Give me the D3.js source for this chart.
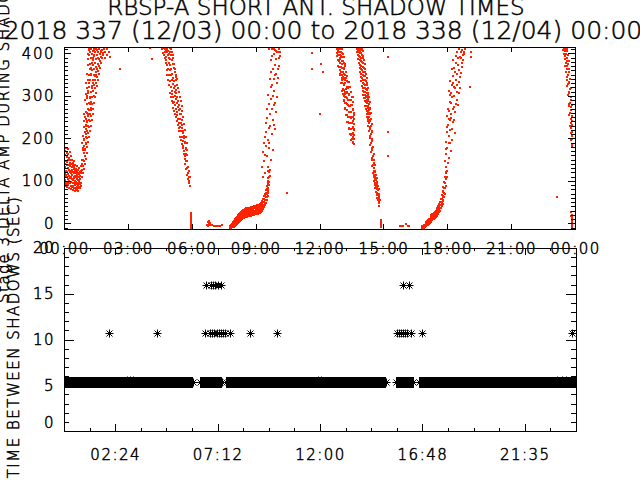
<!DOCTYPE html>
<html>
<head>
<meta charset="utf-8">
<script src="https://cdn.jsdelivr.net/npm/d3@7"></script>
<style>
body { margin: 0; background: #fff; }
text { font-family: "DejaVu Sans", sans-serif; font-weight: 200; fill: #000; stroke: #000; stroke-width: 0.5px; }
</style>
</head>
<body>
<svg id="chart" width="640" height="480"></svg>
<script>
// tick labels
const topTickHours = [0, 3, 6, 9, 12, 15, 18, 21, 24];
const topTickLabels = ['00:00', '03:00', '06:00', '09:00', '12:00', '15:00', '18:00', '21:00', '00:00'];
const ampTicks = [0, 100, 200, 300, 400];
const bottomTickHours = [2.4, 7.2, 12, 16.8, 21.6];
const bottomTickLabels = ['02:24', '07:12', '12:00', '16:48', '21:35'];
const gapTicks = [0, 5, 10, 15, 20];

// delta amp during shadow: sparse parts as [hour, value], dense parts as [hour, [values at that hour]]
const ampMorningCluster = [[0.01,128],[0.01,96],[0.02,152],[0.03,112],[0.03,170],[0.04,88],[0.05,140],[0.05,118],[0.06,102],[0.07,160],[0.07,132],[0.08,92],[0.09,146],[0.09,178],[0.10,114],[0.11,124],[0.11,98],[0.12,156],[0.13,136],[0.13,86],[0.14,108],[0.15,166],[0.15,144],[0.16,120],[0.17,94],[0.17,174],[0.18,130],[0.19,104],[0.19,150],[0.20,116],[0.21,162],[0.21,90],[0.22,138],[0.23,126],[0.23,100],[0.24,154],[0.25,112],[0.25,84],[0.26,142],[0.27,168],[0.27,120],[0.28,96],[0.29,134],[0.29,106],[0.30,148],[0.31,88],[0.31,124],[0.32,158],[0.33,110],[0.33,140],[0.34,80],[0.35,118],[0.35,98],[0.36,132],[0.37,150],[0.37,104],[0.38,86],[0.39,126],[0.39,114],[0.40,142],[0.41,94],[0.41,78],[0.42,120],[0.43,136],[0.43,102],[0.44,88],[0.45,128],[0.45,110],[0.46,146],[0.47,82],[0.47,96],[0.48,118],[0.49,132],[0.49,106],[0.50,90],[0.51,124],[0.51,76],[0.52,112],[0.53,100],[0.53,138],[0.54,84],[0.55,118],[0.55,94],[0.56,108],[0.57,128],[0.57,78],[0.58,98],[0.59,114],[0.59,86],[0.60,104],[0.61,122],[0.61,92],[0.62,80],[0.63,110],[0.63,134],[0.64,96],[0.65,84],[0.65,118],[0.66,102],[0.67,90],[0.67,126],[0.68,76],[0.69,108],[0.69,96],[0.70,116],[0.71,86],[0.71,130],[0.72,100],[0.73,92],[0.73,112],[0.74,82],[0.75,104],[0.75,120],[0.76,94]];
const ampMorningRise = [[0.78,88],[0.77,104],[0.79,118],[0.82,95],[0.81,122],[0.83,148],[0.82,134],[0.86,108],[0.85,140],[0.87,172],[0.86,190],[0.84,125],[0.90,118],[0.89,150],[0.91,176],[0.90,205],[0.92,226],[0.88,135],[0.94,128],[0.93,165],[0.95,198],[0.94,240],[0.96,258],[0.92,182],[0.95,146],[0.98,140],[0.97,172],[0.99,214],[0.98,250],[1.00,290],[0.96,196],[0.99,158],[1.01,232],[1.02,152],[1.01,190],[1.03,228],[1.02,262],[1.04,305],[1.03,330],[1.00,174],[1.05,246],[1.04,210],[1.06,166],[1.05,204],[1.07,238],[1.06,280],[1.08,318],[1.07,352],[1.04,186],[1.09,260],[1.08,300],[1.05,222],[1.10,180],[1.09,216],[1.11,256],[1.10,294],[1.12,338],[1.11,372],[1.13,398],[1.08,240],[1.12,312],[1.09,200],[1.14,192],[1.13,228],[1.15,270],[1.14,306],[1.16,350],[1.15,386],[1.17,408],[1.12,252],[1.16,330],[1.13,212],[1.18,204],[1.17,244],[1.19,282],[1.18,320],[1.20,362],[1.19,396],[1.16,266],[1.21,338],[1.17,226],[1.19,410],[1.22,218],[1.21,258],[1.23,298],[1.22,336],[1.24,374],[1.23,404],[1.20,280],[1.25,352],[1.21,240],[1.26,230],[1.25,272],[1.27,310],[1.26,348],[1.28,388],[1.27,410],[1.24,294],[1.29,366],[1.25,252],[1.30,244],[1.29,286],[1.31,324],[1.30,360],[1.32,398],[1.28,308],[1.33,378],[1.29,266],[1.34,258],[1.33,298],[1.35,338],[1.34,372],[1.36,406],[1.32,318],[1.37,390],[1.33,280],[1.38,270],[1.37,312],[1.39,350],[1.38,384],[1.40,410],[1.36,330],[1.41,396],[1.42,284],[1.41,326],[1.43,362],[1.42,394],[1.44,346],[1.40,408],[1.43,300],[1.46,296],[1.45,338],[1.47,376],[1.46,402],[1.48,356],[1.44,318],[1.50,306],[1.49,350],[1.51,386],[1.50,410],[1.52,368],[1.48,330],[1.55,322],[1.54,362],[1.56,396],[1.53,344],[1.57,408],[1.60,336],[1.59,374],[1.61,404],[1.58,358],[1.62,390],[1.65,352],[1.64,386],[1.66,410],[1.63,370],[1.70,366],[1.69,398],[1.71,382],[1.72,406],[1.75,378],[1.74,402],[1.76,392],[1.80,390],[1.79,408],[1.81,396],[1.85,400],[1.86,410],[1.92,402],[1.91,388],[2.00,396],[2.01,410],[2.10,404],[2.18,392]];
const ampEarlyFall = [[4.62,410],[4.65,400],[4.68,412],[4.70,396],[4.74,388],[4.73,404],[4.75,410],[4.78,376],[4.77,392],[4.79,408],[4.82,360],[4.81,384],[4.83,402],[4.80,412],[4.86,350],[4.85,372],[4.87,396],[4.84,410],[4.90,338],[4.89,362],[4.91,388],[4.88,406],[4.94,326],[4.93,350],[4.95,376],[4.92,398],[4.96,412],[4.98,306],[4.97,334],[4.99,360],[4.96,386],[5.00,404],[5.02,296],[5.01,320],[5.03,348],[5.00,372],[5.04,396],[5.02,410],[5.06,288],[5.05,312],[5.07,336],[5.04,362],[5.08,384],[5.06,402],[5.10,282],[5.09,304],[5.11,328],[5.08,352],[5.12,374],[5.10,396],[5.14,272],[5.13,296],[5.15,318],[5.12,342],[5.16,366],[5.14,388],[5.18,264],[5.17,286],[5.19,310],[5.16,334],[5.20,356],[5.18,374],[5.22,256],[5.21,278],[5.23,300],[5.20,322],[5.24,344],[5.22,362],[5.26,250],[5.25,270],[5.27,292],[5.24,314],[5.28,336],[5.26,350],[5.30,240],[5.29,262],[5.31,284],[5.28,306],[5.32,326],[5.30,340],[5.34,232],[5.33,254],[5.35,274],[5.32,296],[5.36,318],[5.38,224],[5.37,246],[5.39,266],[5.36,288],[5.40,308],[5.42,216],[5.41,236],[5.43,258],[5.40,278],[5.44,298],[5.46,204],[5.45,226],[5.47,246],[5.44,268],[5.48,288],[5.50,196],[5.49,216],[5.51,236],[5.48,256],[5.52,276],[5.54,186],[5.53,204],[5.55,224],[5.52,244],[5.56,264],[5.58,176],[5.57,194],[5.59,212],[5.56,232],[5.60,250],[5.62,164],[5.61,182],[5.63,200],[5.60,218],[5.64,234],[5.66,152],[5.65,170],[5.67,188],[5.64,206],[5.68,220],[5.70,140],[5.69,158],[5.71,174],[5.68,192],[5.72,204],[5.74,128],[5.73,146],[5.75,162],[5.72,178],[5.76,188],[5.78,114],[5.77,130],[5.79,146],[5.76,160],[5.80,172],[5.82,104],[5.81,118],[5.83,132],[5.80,146],[5.86,94],[5.85,108],[5.87,122],[5.90,88],[5.89,100],[5.91,110],[5.95,25],[5.96,21],[5.95,17],[5.96,13],[5.95,9],[5.96,5],[5.97,1],[5.96,-3],[5.97,-7],[5.96,-11]];
const ampEarlyLow = [[6.72,-4],[6.76,2],[6.80,5],[6.84,0],[6.88,-3],[6.95,-5],[7.05,-6],[7.15,-6],[7.25,-6],[7.35,-6],[7.42,-5],[6.78,-6],[6.82,-2]];
const ampEarlyCurve = [[7.80,[-10,-6]],[7.84,[-11,-7,-3]],[7.88,[-9,-5,-1]],[7.92,[-8,-3,2]],[7.96,[-6,-1,4]],[8.00,[-9,-5,0,6]],[8.04,[-7,-3,3,9]],[8.08,[-5,-1,5,12]],[8.12,[-2,2,8,15]],[8.16,[0,4,10,15,19]],[8.20,[2,6,12,17,21]],[8.24,[4,9,14,19,23]],[8.28,[6,11,16,21,25]],[8.32,[8,13,18,22,27]],[8.36,[10,14,19,24,29]],[8.40,[12,16,21,26,31]],[8.44,[13,17,22,27,32]],[8.48,[14,18,23,28,33]],[8.52,[15,19,24,29,34]],[8.56,[16,20,25,30,35]],[8.60,[16,20,25,31,36]],[8.64,[17,21,26,31,36]],[8.68,[17,21,26,32,37]],[8.72,[18,22,27,32,37]],[8.76,[18,22,27,33,38]],[8.80,[19,23,28,33,38]],[8.84,[19,23,28,34,39]],[8.88,[20,24,29,34,39]],[8.92,[20,24,29,35,40]],[8.96,[21,25,30,35,40]],[9.00,[21,25,30,36,41]],[9.04,[22,26,31,36,41]],[9.08,[22,26,31,37,42]],[9.12,[23,27,32,38,43]],[9.16,[24,28,33,39,44]],[9.20,[25,29,34,40,45]],[9.24,[26,30,36,42,47]],[9.28,[28,32,38,44,50]],[9.32,[30,35,41,47,53]],[9.36,[33,38,44,50,57]],[9.40,[38,44,51,58,64]],[9.44,[42,48,56,64,70]],[9.48,[47,54,62,72,78]],[9.52,[54,62,70,80,88]],[9.56,[64,72,80,92,100]],[9.60,[76,84,94,106]],[9.64,[90,98,108,120]],[9.68,[112,126]]];
const ampEarlyScatter = [[9.32,132],[9.36,168],[9.40,146],[9.42,204],[9.45,118],[9.47,182],[9.50,236],[9.52,158],[9.55,270],[9.57,196],[9.58,132],[9.60,302],[9.62,224],[9.64,176],[9.66,340],[9.68,258],[9.70,150],[9.71,384],[9.73,292],[9.75,210],[9.76,410],[9.78,326],[9.80,244],[9.81,172],[9.83,364],[9.85,278],[9.87,398],[9.88,312],[9.90,222],[9.92,350],[9.94,406],[9.96,262],[9.98,386],[10.00,330],[10.02,296],[10.05,402],[10.08,370],[10.12,410],[10.16,394],[10.47,71],[9.34,110],[9.38,190],[9.44,160],[9.49,214],[9.53,248],[9.56,122],[9.61,188],[9.65,280],[9.69,230],[9.72,320],[9.74,356],[9.77,270],[9.79,394],[9.82,300],[9.84,232],[9.86,340],[9.89,372],[9.91,408],[9.93,284],[9.97,352],[9.99,404],[10.03,364],[10.06,342],[10.10,390],[9.63,410],[9.84,410],[10.14,404]];
const ampLateFallA = [[12.80,[410,401]],[12.83,[393,409]],[12.86,[384,405,412]],[12.89,[371,395,407]],[12.92,[368,381,403,411]],[12.95,[352,377,388,409]],[12.98,[349,361,386,395,412]],[13.01,[331,357,368,394,404]],[13.04,[329,341,366,383,401]],[13.07,[311,338,349,375,392,410]],[13.10,[305,317,344,356,381,398]],[13.13,[289,314,327,352,365,391]],[13.16,[287,299,325,339,362,377]],[13.19,[271,298,309,336,348,374]],[13.22,[270,283,304,329,343,369]],[13.25,[255,282,296,315,341,355]],[13.28,[254,267,294,309,335,347]],[13.31,[239,266,281,306,321,346]],[13.34,[238,251,279,291,319,333]],[13.37,[224,250,263,290,305,332]],[13.40,[222,236,262,277,302,321]],[13.43,[210,235,249,276,291,320]],[13.46,[208,221,248,263,290,309]],[13.49,[197,222,235,262,279,308]],[13.52,[198,211,237,251,278,297]],[13.55,[190,213,225,250,267,296]],[13.58,[192,203,227,241,268,285]],[13.61,[187,207,219,245,259]],[13.64,[198,221,234,254]]];
const ampLateFallB = [[13.76,[404,411]],[13.79,[396,408]],[13.82,[386,402,412]],[13.85,[377,394,409]],[13.88,[366,385,401,411]],[13.91,[357,373,392,406]],[13.94,[345,364,383,400,412]],[13.97,[334,352,371,390,407]],[14.00,[324,341,360,380,397,410]],[14.03,[311,330,349,368,388,405]],[14.06,[302,318,338,357,376,394]],[14.09,[295,309,327,346,366,385]],[14.12,[287,303,318,336,356,374]],[14.15,[276,294,310,326,346,362]],[14.18,[269,285,300,317,335,352]],[14.21,[258,277,291,307,325,341]],[14.24,[250,264,282,297,314,330]],[14.27,[240,256,271,287,303,318]],[14.30,[229,246,262,276,292,306]],[14.33,[216,235,251,267,281,296]],[14.36,[200,222,240,256,270,285]],[14.39,[184,206,226,243,259,272]],[14.42,[168,190,211,230,246,260]],[14.45,[150,172,194,215,233]],[14.48,[134,154,176,198,218]],[14.51,[118,138,158,180]],[14.54,[108,124,142,162]],[14.57,[99,114,130,148]],[14.60,[90,104,120,136]],[14.63,[82,96,110,124]],[14.66,[74,88,101,114]],[14.69,[66,80,93,106]],[14.72,[60,72,85,97]],[14.75,[54,66,78,88]],[14.78,[48,60,70,80]],[14.81,[40,52,64]],[14.84,[56]],[14.87,[8,-1]],[14.88,[3,-5]],[14.89,[6,-9]]];
const ampLateLow = [[15.78,-6],[15.82,-6],[15.92,-6],[16.05,-2],[16.16,-7],[16.20,-7]];
const ampLateCurve = [[16.82,[-10,-7]],[16.86,[-9,-6]],[16.90,[-10,-5]],[16.94,[-8,-4]],[16.98,[-7,-2]],[17.02,[-6,-1,3]],[17.06,[-4,1,5]],[17.10,[-3,2,7]],[17.14,[-1,4,9]],[17.18,[1,6,11]],[17.22,[3,8,13]],[17.26,[5,10,15,19]],[17.30,[7,12,17,21]],[17.34,[9,14,19,23]],[17.38,[11,16,21,25]],[17.42,[13,18,23,27]],[17.46,[15,20,26,30]],[17.50,[17,22,28,33]],[17.54,[20,25,31,37]],[17.58,[23,29,35,41]],[17.62,[26,33,40,46]],[17.66,[30,37,44,51]],[17.70,[35,42,50,58]],[17.74,[40,48,57,66]],[17.78,[46,55,65,75]],[17.82,[53,63,74,86]],[17.86,[61,72,84,97]],[17.90,[70,82,96,110]],[17.93,[88,104,120]]];
const ampLateScatter = [[17.92,118],[17.96,132],[18.01,108],[17.90,146],[17.94,162],[17.99,178],[18.06,154],[18.12,188],[18.18,170],[18.24,196],[17.93,192],[17.97,214],[18.03,232],[18.09,206],[18.15,244],[18.21,222],[18.28,238],[18.35,212],[17.99,252],[18.05,268],[18.11,286],[18.17,258],[18.23,296],[18.30,274],[18.37,262],[18.44,290],[18.51,278],[18.06,312],[18.12,334],[18.19,306],[18.26,346],[18.33,320],[18.40,338],[18.47,310],[18.54,332],[18.61,318],[18.22,362],[18.29,384],[18.36,356],[18.43,394],[18.50,372],[18.57,360],[18.64,388],[18.71,368],[18.76,396],[18.48,404],[18.56,410],[18.63,402],[18.70,408],[18.79,404],[18.84,410],[18.00,124],[18.03,142],[17.95,174],[18.08,190],[18.14,220],[18.19,248],[18.25,270],[18.32,300],[18.38,318],[18.45,352],[18.52,390],[18.58,344],[18.67,378],[18.09,264],[18.16,282],[18.27,330],[18.34,366],[18.41,280],[18.53,306],[18.60,392],[17.98,226],[18.07,246],[18.13,302],[18.20,326],[18.31,242],[18.39,376],[18.46,326],[18.66,354],[18.73,384],[18.81,398],[19.07,321],[19.10,392],[19.10,404]];
const ampNightFall = [[23.44,[408]],[23.48,[398,410]],[23.52,[386,405]],[23.55,[371,394,410]],[23.58,[357,376,399]],[23.61,[338,364,383,405]],[23.64,[323,344,370,390,410]],[23.67,[301,327,348,375,395]],[23.70,[275,306,329,357,381]],[23.73,[254,280,310,333,363]],[23.76,[229,259,284,316,339]],[23.79,[213,236,266,290,319]],[23.82,[197,224,246,274,297]],[23.85,[187,205,232,253,279]],[23.88,[181,199,215,241]],[23.83,[26,18]],[23.85,[12,4]],[23.86,[20,-3]],[23.88,[8,-10]],[23.87,[-6,14]]];
const ampStray = [[2.63,362],[4.05,413],[4.13,386],[11.65,400],[11.65,363],[12.02,257],[12.07,375],[12.17,356],[15.22,391],[15.22,215],[15.22,158],[23.16,62]];

// time between shadows (sec)
const gapRunStart = [0, 6.39, 7.61, 15.55, 16.63];
const gapRunEnd = [6.06, 7.42, 15.1, 16.38, 24];
const gapRunLow = 5.15;
const gapRunHigh = 5.5;
const gapRunValue = 5.33;
const gapRaisedHours = [2.96, 3.1, 3.22, 11.9, 12.05, 23.1, 23.35, 23.55];
const gapRaisedValue = 5.6;
const gapDoubleHours = [2.11, 4.37, 6.6, 6.85, 6.95, 7.05, 7.15, 7.25, 7.35, 7.45, 7.55, 7.8, 8.74, 9.99, 15.6, 15.7, 15.8, 15.9, 16.0, 16.1, 16.25, 16.8, 23.81];
const gapDoubleValue = 10.67;
const gapTripleHours = [6.65, 6.9, 7.0, 7.1, 7.2, 7.35, 15.9, 16.18];
const gapTripleValue = 16;

const svg = d3.select('#chart');
const red = '#ff2200';
const tickFont = 15;

const x1 = d3.scaleLinear().domain([0, 24]).range([64, 575]);
const y1 = d3.scaleLinear().domain([-13.4, 414.8]).range([229, 47]);
const x2 = d3.scaleLinear().domain([0, 24]).range([64, 576]);
const y2 = d3.scaleLinear().domain([0, 20]).range([431, 248]);

const defs = svg.append('defs');
defs.append('clipPath').attr('id', 'clip1').append('rect')
	.attr('x', 64).attr('y', 47).attr('width', 511).attr('height', 182);
defs.append('clipPath').attr('id', 'clip2').append('rect')
	.attr('x', 64).attr('y', 248).attr('width', 512).attr('height', 183);

// titles
svg.append('text').attr('x', 316).attr('y', 15).attr('text-anchor', 'middle')
	.style('font-size', '23px').text('RBSP-A SHORT ANT. SHADOW TIMES');
svg.append('text').attr('x', 323).attr('y', 39).attr('text-anchor', 'middle')
	.style('font-size', '25px').text('2018 337 (12/03) 00:00 to 2018 338 (12/04) 00:00');

svg.append('text').attr('transform', 'translate(9,138) rotate(-90)').attr('text-anchor', 'middle')
	.style('font-size', '15px').style('letter-spacing', '1.5px').text('Stage 3 DELTA AMP DURING SHADOW');
svg.append('text').attr('transform', 'translate(19,337) rotate(-90)').attr('text-anchor', 'middle')
	.style('font-size', '15px').style('letter-spacing', '1.5px').text('TIME BETWEEN SHADOWS (SEC)');

// top panel dots
const spread = (segment) => segment.flatMap(([h, vs]) => vs.map((v) => [h, v]));
const ampPoints = [].concat(ampMorningCluster, ampMorningRise, ampEarlyFall, ampEarlyLow, spread(ampEarlyCurve),
	ampEarlyScatter, spread(ampLateFallA), spread(ampLateFallB), ampLateLow, spread(ampLateCurve),
	ampLateScatter, spread(ampNightFall), ampStray);

svg.append('g').attr('clip-path', 'url(#clip1)')
	.selectAll('rect')
	.data(ampPoints)
	.enter()
	.append('rect')
	.attr('x', (d) => Math.round(x1(d[0])) - 1)
	.attr('y', (d) => Math.round(y1(d[1])) - 1)
	.attr('width', 2)
	.attr('height', 2)
	.attr('fill', red);

// bottom panel
const starPath = 'M-4,0H4M0,-4V4M-3,-3L3,3M-3,3L3,-3';
const runs = gapRunStart.map((s, i) => ({ start: s, end: gapRunEnd[i] }));
const stars = [];
runs.forEach((r) => {
	stars.push([r.start, gapRunValue]);
	stars.push([r.end, gapRunValue]);
});
gapRaisedHours.forEach((h) => stars.push([h, gapRaisedValue]));
gapDoubleHours.forEach((h) => stars.push([h, gapDoubleValue]));
gapTripleHours.forEach((h) => stars.push([h, gapTripleValue]));

const g2 = svg.append('g').attr('clip-path', 'url(#clip2)');
g2.selectAll('rect')
	.data(runs)
	.enter()
	.append('rect')
	.attr('x', (d) => Math.round(x2(d.start)))
	.attr('y', Math.round(y2(gapRunHigh)) - 4)
	.attr('width', (d) => Math.round(x2(d.end) - x2(d.start)))
	.attr('height', Math.round(y2(gapRunLow) - y2(gapRunHigh)) + 8)
	.attr('fill', '#000');
g2.selectAll('path')
	.data(stars)
	.enter()
	.append('path')
	.attr('transform', (d) => 'translate(' + (Math.round(x2(d[0])) + 0.5) + ',' + (Math.round(y2(d[1])) + 0.5) + ')')
	.attr('d', starPath)
	.attr('stroke', '#000')
	.attr('fill', 'none');

// axes
const styleAxis = (g) => {
	g.select('.domain').remove();
	g.selectAll('line').attr('stroke', '#000').attr('shape-rendering', 'crispEdges');
	g.attr('font-size', tickFont).attr('font-family', '"DejaVu Sans", sans-serif');
	g.selectAll('text').style('letter-spacing', '1.5px').attr('fill', '#000');
};

const ampMinor = d3.range(-10, 411, 10).filter((v) => v % 100 !== 0);
const gapMinor = d3.range(1, 20).filter((v) => v % 5 !== 0);
const hourMinor = d3.range(1.2, 24, 1.2).filter((h, i) => (i + 1) % 4 !== 2);

// top panel
svg.append('g').attr('transform', 'translate(0,229)')
	.call(d3.axisBottom(x1).tickValues(topTickHours).tickFormat((d, i) => topTickLabels[i]).tickSize(-5).tickSizeOuter(0).tickPadding(14))
	.call(styleAxis);
svg.append('g').attr('transform', 'translate(0,47)')
	.call(d3.axisTop(x1).tickValues(topTickHours).tickFormat('').tickSize(-5).tickSizeOuter(0))
	.call(styleAxis);
svg.append('g').attr('transform', 'translate(64,0)')
	.call(d3.axisLeft(y1).tickValues(ampTicks).tickSize(-7).tickSizeOuter(0).tickPadding(9))
	.call(styleAxis);
svg.append('g').attr('transform', 'translate(64,0)')
	.call(d3.axisLeft(y1).tickValues(ampMinor).tickFormat('').tickSize(-4).tickSizeOuter(0))
	.call(styleAxis);
svg.append('g').attr('transform', 'translate(575,0)')
	.call(d3.axisRight(y1).tickValues(ampTicks).tickFormat('').tickSize(-7).tickSizeOuter(0))
	.call(styleAxis);
svg.append('g').attr('transform', 'translate(575,0)')
	.call(d3.axisRight(y1).tickValues(ampMinor).tickFormat('').tickSize(-4).tickSizeOuter(0))
	.call(styleAxis);

// bottom panel
svg.append('g').attr('transform', 'translate(0,431)')
	.call(d3.axisBottom(x2).tickValues(bottomTickHours).tickFormat((d, i) => bottomTickLabels[i]).tickSize(-7).tickSizeOuter(0).tickPadding(18))
	.call(styleAxis);
svg.append('g').attr('transform', 'translate(0,431)')
	.call(d3.axisBottom(x2).tickValues(hourMinor).tickFormat('').tickSize(-3).tickSizeOuter(0))
	.call(styleAxis);
svg.append('g').attr('transform', 'translate(0,248)')
	.call(d3.axisTop(x2).tickValues(bottomTickHours).tickFormat('').tickSize(-7).tickSizeOuter(0))
	.call(styleAxis);
svg.append('g').attr('transform', 'translate(0,248)')
	.call(d3.axisTop(x2).tickValues(hourMinor).tickFormat('').tickSize(-3).tickSizeOuter(0))
	.call(styleAxis);
const gapAxis = svg.append('g').attr('transform', 'translate(64,0)')
	.call(d3.axisLeft(y2).tickValues(gapTicks).tickSize(-10).tickSizeOuter(0).tickPadding(9))
	.call(styleAxis);
gapAxis.selectAll('.tick').filter((d) => d === 0).select('text').attr('dy', '-0.22em');
svg.append('g').attr('transform', 'translate(64,0)')
	.call(d3.axisLeft(y2).tickValues(gapMinor).tickFormat('').tickSize(-5).tickSizeOuter(0))
	.call(styleAxis);
svg.append('g').attr('transform', 'translate(576,0)')
	.call(d3.axisRight(y2).tickValues(gapTicks).tickFormat('').tickSize(-10).tickSizeOuter(0))
	.call(styleAxis);
svg.append('g').attr('transform', 'translate(576,0)')
	.call(d3.axisRight(y2).tickValues(gapMinor).tickFormat('').tickSize(-5).tickSizeOuter(0))
	.call(styleAxis);

// boxes
svg.append('rect').attr('x', 64.5).attr('y', 47.5).attr('width', 511).attr('height', 182)
	.attr('fill', 'none').attr('stroke', '#000');
svg.append('rect').attr('x', 64.5).attr('y', 248.5).attr('width', 512).attr('height', 183)
	.attr('fill', 'none').attr('stroke', '#000');
</script>
</body>
</html>
